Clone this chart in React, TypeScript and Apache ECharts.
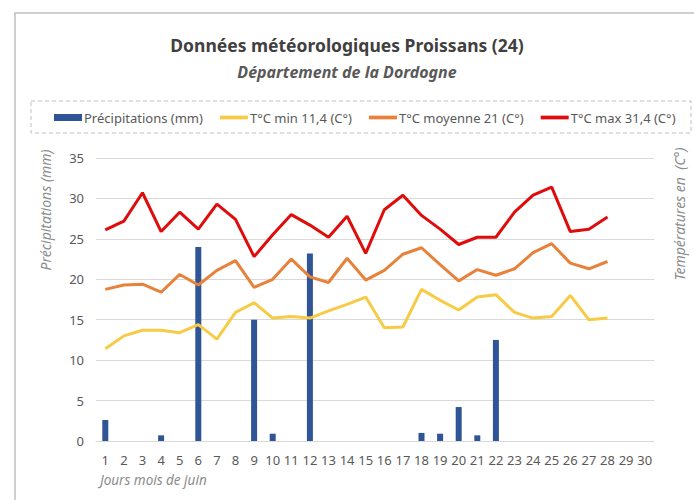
import React, { useEffect, useRef } from "react";
import * as echarts from "echarts";

const days = Array.from({ length: 30 }, (_, i) => String(i + 1));
const precip = [2.6, null, null, 0.7, null, 24.0, null, null, 15.0, 0.9, null, 23.2, null, null, null, null, null, 1.0, 0.9, 4.2, 0.7, 12.5, null, null, null, null, null, null, null, null];
const tMin = [11.4, 13.0, 13.7, 13.7, 13.4, 14.4, 12.6, 15.9, 17.1, 15.2, 15.4, 15.2, 16.1, 16.9, 17.8, 14.0, 14.1, 18.75, 17.4, 16.2, 17.8, 18.1, 15.9, 15.2, 15.4, 18.0, 15.0, 15.2];
const tMoy = [18.75, 19.3, 19.4, 18.4, 20.6, 19.3, 21.1, 22.3, 19.0, 20.0, 22.5, 20.3, 19.6, 22.6, 19.9, 21.1, 23.1, 23.9, 21.8, 19.8, 21.2, 20.5, 21.3, 23.3, 24.4, 22.0, 21.3, 22.2];
const tMax = [26.1, 27.2, 30.7, 25.9, 28.3, 26.2, 29.3, 27.4, 22.8, 25.5, 28.0, 26.7, 25.2, 27.8, 23.2, 28.6, 30.4, 27.9, 26.2, 24.3, 25.2, 25.2, 28.3, 30.4, 31.4, 25.9, 26.2, 27.7];
const seriesNames = ["Précipitations (mm)", "T°C min 11,4 (C°)", "T°C moyenne 21 (C°)", "T°C max 31,4 (C°)"];

const FONT = "'Noto Sans', 'Open Sans', sans-serif";
const GRAY = "#595959";
const LINE_ICON = "path://M0 0H30V4H0Z";

export default function App() {
  const ref = useRef<HTMLDivElement>(null);
  useEffect(() => {
    if (!ref.current) return;
    const chart = echarts.init(ref.current, null, { renderer: "svg" });
    chart.setOption({
      animation: false,
      backgroundColor: "#fff",
      textStyle: { fontFamily: FONT },
      title: [
        {
          text: "Données météorologiques Proissans (24)",
          left: "center",
          top: 31,
          textStyle: { fontSize: 17.5, fontWeight: "bold", color: "#404040", fontFamily: FONT },
        },
        {
          text: "Département de la Dordogne",
          left: "center",
          top: 59,
          textStyle: { fontSize: 16, fontWeight: "bold", fontStyle: "italic", color: GRAY, fontFamily: FONT },
        },
      ],
      legend: {
        left: 49,
        top: 106,
        itemGap: 17,
        itemWidth: 28,
        itemHeight: 7,
        textStyle: { fontSize: 13, color: GRAY, fontFamily: FONT, padding: [0, 0, 0, -3] },
        data: seriesNames.map((n, i) => ({ name: n, icon: i === 0 ? "rect" : LINE_ICON })),
      },
      graphic: [
        {
          type: "rect",
          shape: { x: 15, y: 13, width: 700, height: 520 },
          style: { fill: "none", stroke: "#bfbfbf", lineWidth: 1.5 },
          silent: true,
        },
        {
          type: "rect",
          shape: { x: 31, y: 101, width: 660, height: 32 },
          style: { fill: "none", stroke: "#bfbfbf", lineWidth: 1, lineDash: [4, 3] },
          silent: true,
        },
        {
          type: "text",
          x: 45,
          y: 210,
          rotation: Math.PI / 2,
          style: { text: "Précipitations (mm)", fill: "#8c8c8c", font: `italic 14px ${FONT}`, align: "center", verticalAlign: "middle" },
        },
        {
          type: "text",
          x: 679,
          y: 214,
          rotation: Math.PI / 2,
          style: { text: "Températures en  (C°)", fill: "#8c8c8c", font: `italic 14px ${FONT}`, align: "center", verticalAlign: "middle" },
        },
      ],
      grid: { left: 96, right: 40, top: 158, bottom: 59, containLabel: false },
      xAxis: {
        type: "category",
        data: days,
        axisLine: { lineStyle: { color: "#d9d9d9" } },
        axisTick: { show: false },
        axisLabel: { color: GRAY, fontSize: 13, margin: 12, interval: 0 },
        name: "Jours mois de juin",
        nameLocation: "start",
        nameGap: 0,
        nameTextStyle: {
          color: "#8c8c8c",
          fontStyle: "italic",
          fontSize: 13.5,
          align: "left",
          verticalAlign: "top",
          padding: [32, 0, 0, 4],
        },
      },
      yAxis: [
        {
          type: "value",
          min: 0,
          max: 35,
          interval: 5,
          axisLine: { show: false },
          axisTick: { show: false },
          axisLabel: { color: GRAY, fontSize: 13, margin: 12 },
          splitLine: { lineStyle: { color: "#d9d9d9" } },
        },
        {
          type: "value",
          min: 0,
          max: 35,
          interval: 5,
          axisLine: { show: false },
          axisTick: { show: false },
          axisLabel: { show: false },
          splitLine: { show: false },
        },
      ],
      series: [
        {
          name: seriesNames[0],
          type: "bar",
          data: precip,
          barWidth: 6,
          yAxisIndex: 0,
          itemStyle: { color: "#2f5597" },
        },
        {
          name: seriesNames[1],
          type: "line",
          data: tMin,
          yAxisIndex: 1,
          symbol: "none",
          itemStyle: { color: "#f7cb45" },
          lineStyle: { color: "#f7cb45", width: 3 },
        },
        {
          name: seriesNames[2],
          type: "line",
          data: tMoy,
          yAxisIndex: 1,
          symbol: "none",
          itemStyle: { color: "#e8823a" },
          lineStyle: { color: "#e8823a", width: 3 },
        },
        {
          name: seriesNames[3],
          type: "line",
          data: tMax,
          yAxisIndex: 1,
          symbol: "none",
          itemStyle: { color: "#e00b0b" },
          lineStyle: { color: "#e00b0b", width: 3 },
        },
      ],
    });
    return () => chart.dispose();
  }, []);
  return <div ref={ref} style={{ width: 694, height: 500, position: "absolute", left: 0, top: 0 }} />;
}
